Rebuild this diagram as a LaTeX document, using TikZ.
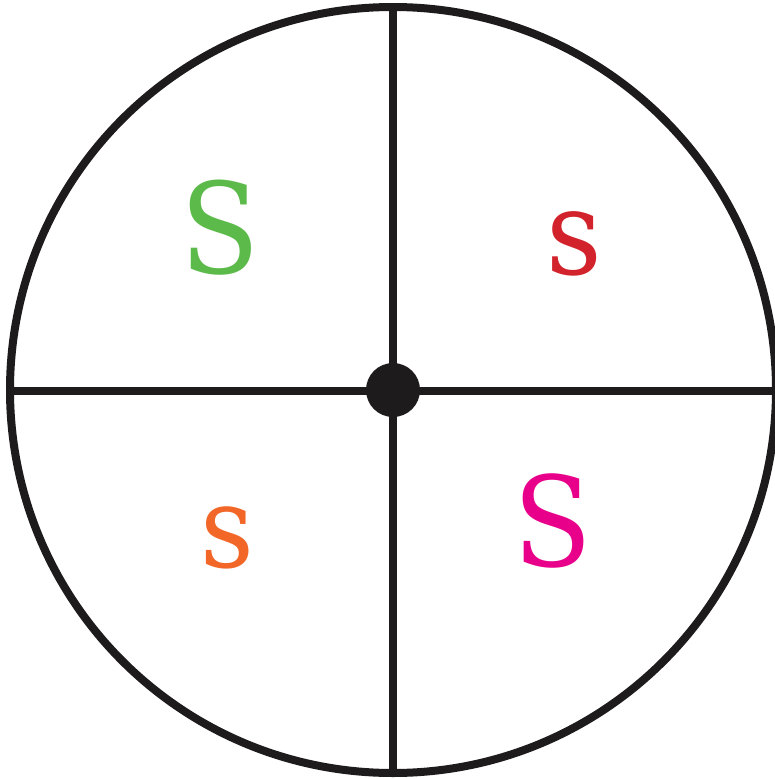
\documentclass[tikz,border=0pt]{standalone}
\usepackage{fontspec}
\setmainfont[FakeStretch=0.92]{DejaVu Serif}
\definecolor{cgreen}{RGB}{92,186,74}
\definecolor{cred}{RGB}{210,35,45}
\definecolor{cmag}{RGB}{232,0,138}
\definecolor{corange}{RGB}{242,102,40}
\definecolor{cdark}{RGB}{30,27,28}
\tikzset{
  rim/.style={draw=cdark,line width=8pt},
  letter/.style={inner sep=0pt,anchor=center},
}
\begin{document}
\begin{tikzpicture}[x=1pt,y=-1pt]
\useasboundingbox (0,0) rectangle (775,779);
\coordinate (c) at (393,390);
\coordinate (t) at (393,7);
\coordinate (b) at (393,773);
\coordinate (l) at (10,391);
\coordinate (r) at (776,391);
\draw[rim] (c) circle[radius=383];
\draw[rim] (t) -- (b);
\draw[rim] (l) -- (r);
\fill[cdark] (c) circle[radius=27];
\node[letter,text=cgreen,font=\fontsize{126}{126}\selectfont] (s1) at (220,228) {S};
\node[letter,text=cred,font=\fontsize{118}{118}\selectfont] (s2) at (574,244) {s};
\node[letter,text=corange,font=\fontsize{114}{114}\selectfont] (s3) at (227,538) {s};
\node[letter,text=cmag,font=\fontsize{125}{125}\selectfont] (s4) at (553,521) {S};
\end{tikzpicture}
\end{document}
